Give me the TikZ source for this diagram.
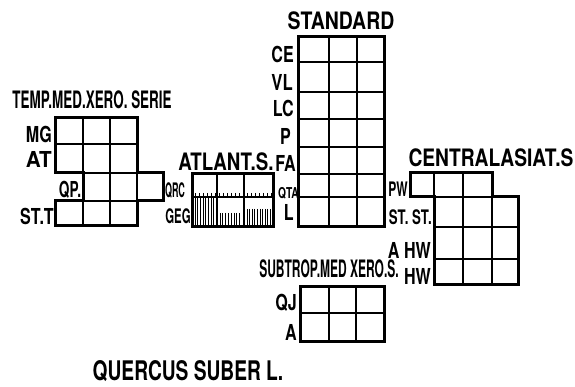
\documentclass[tikz,border=0pt]{standalone}
\usepackage{fontspec}
\setmainfont{TeX Gyre Heros}
\usepackage{graphicx}
\newcommand\sx[2]{\scalebox{#1}[1]{#2}}
\begin{document}
\begin{tikzpicture}[x=1pt,y=-1pt,
  outer/.style={line width=3pt, line join=miter},
  inner/.style={line width=2.1pt},
  hatch/.style={line width=1pt},
  lab/.style={inner sep=0pt, font=\fontsize{22}{22}\selectfont\bfseries},
  ttl/.style={inner sep=0pt, font=\fontsize{24}{24}\selectfont\bfseries},
  small/.style={inner sep=0pt, font=\fontsize{20}{20}\selectfont\bfseries},
  tiny/.style={inner sep=0pt, font=\fontsize{15}{15}\selectfont\bfseries}]
\useasboundingbox (0,0) rectangle (575,387);

% ---------- STANDARD ----------
\draw[inner] (329,37)--(329,227) (357,37)--(357,227);
\foreach \y in {62,92,119,147,174,197} \draw[inner] (298,\y)--(384,\y);
\draw[outer] (298,37) rectangle (384,227);
\node[ttl] (tstd) at (341,21) {\sx{0.81}{STANDARD}};
\node[lab,anchor=east] (lce) at (294,54) {\sx{0.73}{CE}};
\node[lab,anchor=east] (lvl) at (293,82) {\sx{0.76}{VL}};
\node[lab,anchor=east] (llc) at (294,108) {\sx{0.73}{LC}};
\node[lab,anchor=east] (lp)  at (291,136) {\sx{0.73}{P}};
\node[lab,anchor=east] (lfa) at (296,163) {\sx{0.73}{FA}};
\node[tiny,anchor=east] (lqta) at (299,193) {\sx{0.68}{QTA}};
\node[lab,anchor=east] (ll)  at (294,212) {\sx{0.73}{L}};

% ---------- TEMP. MED. XERO. SERIE ----------
\draw[inner] (83,118)--(83,226) (110,118)--(110,226) (137,173)--(137,201)
  (55,144)--(137,144) (83,173)--(163,173) (83,201)--(137,201);
\draw[outer] (55,118)--(137,118)--(137,173)--(163,173)--(163,201)--(137,201)
  --(137,226)--(55,226)--(55,201)--(83,201)--(83,173)--(55,173)--cycle;
\node[ttl] (ttemp) at (92,100) {\sx{0.56}{TEMP.MED.XERO. SERIE}};
\node[lab,anchor=east] (lmg) at (52,134) {\sx{0.73}{MG}};
\node[lab,anchor=east] (lat) at (52,159) {\sx{0.94}{AT}};
\node[lab] (lqp) at (70,190) {\sx{0.62}{QP.}};
\node[lab,anchor=east] (lstt) at (54,216) {\sx{0.73}{ST.T}};

% ---------- ATLANT. S. ----------
\foreach \x in {195,199,...,271} \draw[hatch] (\x,193)--(\x,197);
\foreach \x in {195,197.7,...,215} \draw[hatch] (\x,197)--(\x,227);
\foreach \x in {220,222.8,...,242} \draw[hatch] (\x,213)--(\x,227);
\foreach \x in {247,249.6,...,271} \draw[hatch] (\x,209)--(\x,227);
\draw[inner] (217,174)--(217,227) (244,174)--(244,227) (192,197)--(273,197);
\draw[outer] (192,174) rectangle (273,227);
\node[ttl] (tatl) at (226,162) {\sx{0.78}{ATLANT.S.}};
\node[small] (lqrc) at (175,191) {\sx{0.45}{QRC}};
\node[small] (lgeg) at (178,216) {\sx{0.57}{GEG}};

% ---------- CENTRALASIAT. S ----------
\draw[inner] (434,173)--(434,197) (463,173)--(463,284) (492,197)--(492,284)
  (410,197)--(518,197) (434,227)--(518,227) (434,259)--(518,259);
\draw[outer] (410,173)--(492,173)--(492,197)--(518,197)--(518,284)--(434,284)
  --(434,197)--(410,197)--cycle;
\node[ttl] (tcen) at (491,158) {\sx{0.80}{CENTRALASIAT.S}};
\node[small,anchor=east] (lpw) at (408,189) {\sx{0.60}{PW}};
\node[small,anchor=east] (lstst) at (432,217) {\sx{0.66}{ST. ST.}};
\node[lab,anchor=east] (lahw) at (431,250) {\sx{0.73}{A HW}};
\node[lab,anchor=east] (lhw) at (431,276) {\sx{0.73}{HW}};

% ---------- SUBTROP. MED XERO. S. ----------
\draw[inner] (329,286)--(329,341) (356,286)--(356,341) (300,313)--(384,313);
\draw[outer] (300,286) rectangle (384,341);
\node[ttl] (tsub) at (329,269) {\sx{0.50}{SUBTROP.MED XERO.S.}};
\node[lab,anchor=east] (lqj) at (297,303) {\sx{0.73}{QJ}};
\node[lab,anchor=east] (la) at (297,332) {\sx{0.73}{A}};

% ---------- caption ----------
\node[inner sep=0pt, font=\fontsize{27}{27}\selectfont\bfseries] (cap) at (188,371) {\sx{0.71}{QUERCUS SUBER L.}};
\end{tikzpicture}
\end{document}
